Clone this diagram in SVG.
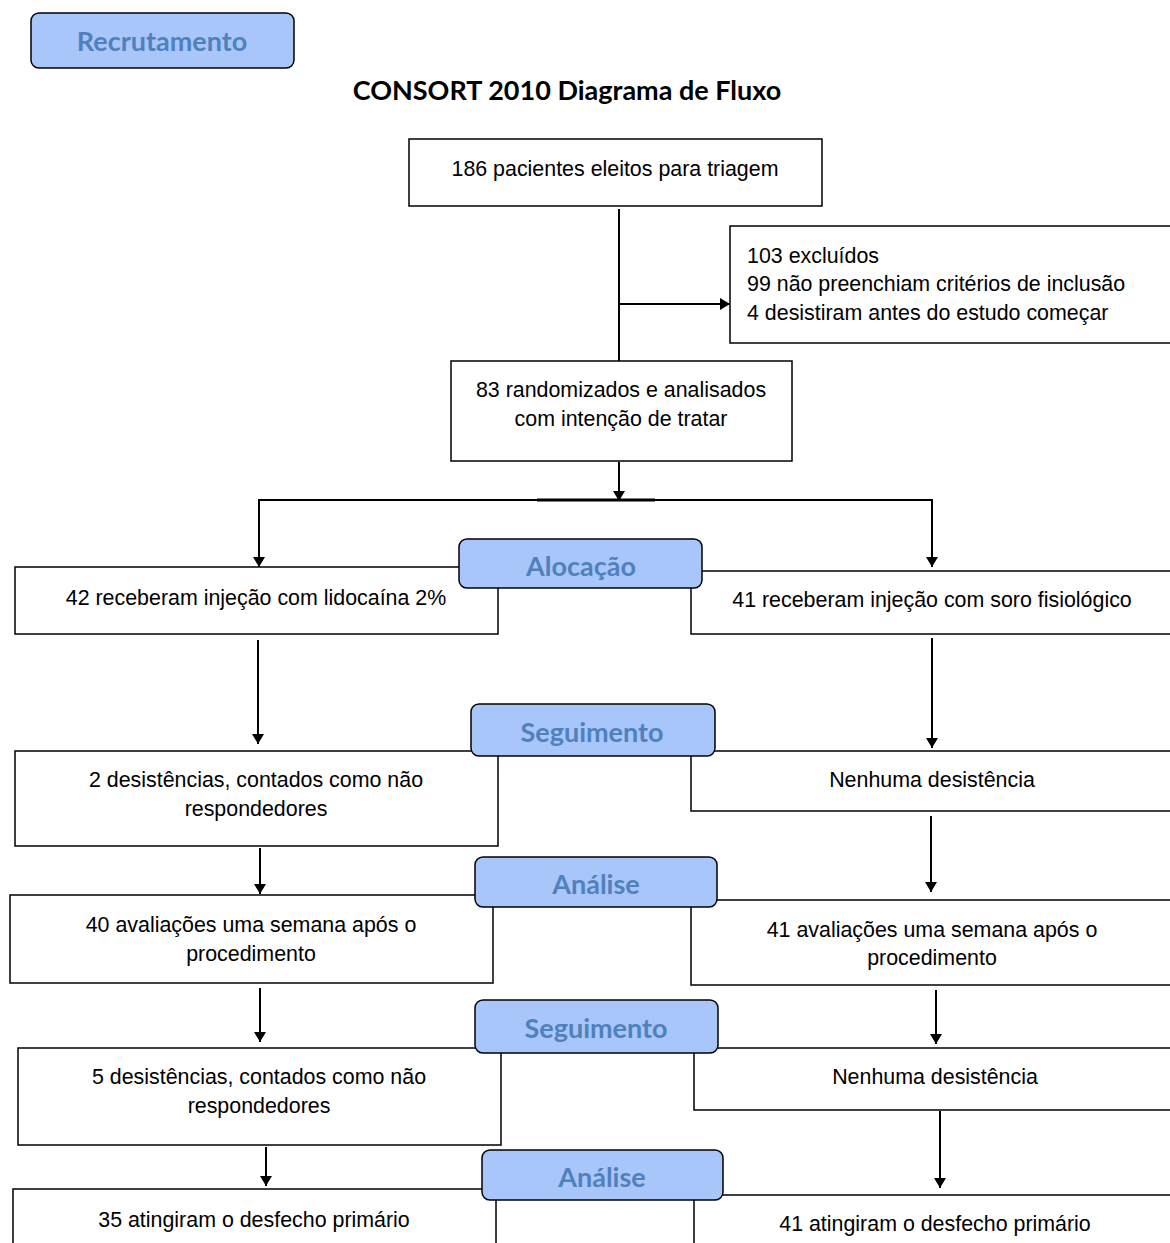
<svg xmlns="http://www.w3.org/2000/svg" width="1170" height="1243" viewBox="0 0 1170 1243">
<style>
.box{fill:#fff;stroke:#000;stroke-width:1.5}
.lab{fill:#a9c6fa;stroke:#000;stroke-width:1.5}
.t{font-family:"Liberation Sans",Arial,sans-serif;font-size:21.4px;fill:#000;text-anchor:middle}
.tl{font-family:"Liberation Sans",Arial,sans-serif;font-size:21.4px;fill:#000}
.lt{font-family:Lato,"Open Sans",sans-serif;font-weight:bold;font-size:27px;fill:#4f81bd;text-anchor:middle}
.title{font-family:Lato,"Open Sans",sans-serif;font-weight:bold;font-size:27px;fill:#000;text-anchor:middle}
.c{stroke:#000;stroke-width:2;fill:none}
</style>
<defs>
<marker id="ah" markerWidth="10" markerHeight="12" refX="10" refY="6" orient="auto" markerUnits="userSpaceOnUse">
<path d="M0,0 L10,6 L0,12 Z" fill="#000"/>
</marker>
</defs>
<g id="recrutamento"><rect class="lab" x="31" y="13" width="263" height="55" rx="8"/><text class="lt" x="162" y="51">Recrutamento</text></g>
<text class="title" x="567" y="100">CONSORT 2010 Diagrama de Fluxo</text>
<g id="connectors">
<line class="c" x1="619" y1="209" x2="619" y2="361"/>
<line class="c" x1="619" y1="304" x2="730" y2="304" marker-end="url(#ah)"/>
<line class="c" x1="619" y1="462" x2="619" y2="501" marker-end="url(#ah)"/>
<polyline class="c" points="259,567 259,500 932,500 932,567" marker-end="url(#ah)"/>
<line class="c" x1="259" y1="520" x2="259" y2="567" marker-end="url(#ah)"/>
<line stroke="#000" stroke-width="3" x1="537" y1="500" x2="655" y2="500"/>
<line class="c" x1="258" y1="640" x2="258" y2="744" marker-end="url(#ah)"/>
<line class="c" x1="932" y1="638" x2="932" y2="748" marker-end="url(#ah)"/>
<line class="c" x1="260" y1="848" x2="260" y2="894" marker-end="url(#ah)"/>
<line class="c" x1="931" y1="816" x2="931" y2="892" marker-end="url(#ah)"/>
<line class="c" x1="260" y1="988" x2="260" y2="1042" marker-end="url(#ah)"/>
<line class="c" x1="936" y1="990" x2="936" y2="1044" marker-end="url(#ah)"/>
<line class="c" x1="266" y1="1147" x2="266" y2="1186" marker-end="url(#ah)"/>
<line class="c" x1="940" y1="1111" x2="940" y2="1188" marker-end="url(#ah)"/>
</g>
<g id="triagem"><rect class="box" x="409" y="139" width="413" height="67"/><text class="t" x="615" y="176">186 pacientes eleitos para triagem</text></g>
<g id="excluidos"><rect class="box" x="730" y="226" width="445" height="117"/>
<text class="tl" x="747" y="263">103 excluídos</text>
<text class="tl" x="747" y="291">99 não preenchiam critérios de inclusão</text>
<text class="tl" x="747" y="320">4 desistiram antes do estudo começar</text></g>
<g id="randomizados"><rect class="box" x="451" y="361" width="341" height="100"/>
<text class="t" x="621" y="397">83 randomizados e analisados</text>
<text class="t" x="621" y="426">com intenção de tratar</text></g>
<g id="lidocaina"><rect class="box" x="15" y="567" width="483" height="67"/><text class="t" x="256" y="605">42 receberam injeção com lidocaína 2%</text></g>
<g id="soro"><rect class="box" x="691" y="571" width="484" height="63"/><text class="t" x="932" y="607">41 receberam injeção com soro fisiológico</text></g>
<g id="alocacao"><rect class="lab" x="459" y="539" width="243" height="49" rx="8"/><text class="lt" x="581" y="576">Alocação</text></g>
<g id="desist-2"><rect class="box" x="15" y="751" width="483" height="95"/>
<text class="t" x="256" y="787">2 desistências, contados como não</text>
<text class="t" x="256" y="816">respondedores</text></g>
<g id="nenhuma-1"><rect class="box" x="691" y="751" width="484" height="60"/><text class="t" x="932" y="787">Nenhuma desistência</text></g>
<g id="seguimento-1"><rect class="lab" x="471" y="704" width="244" height="52" rx="8"/><text class="lt" x="592" y="742">Seguimento</text></g>
<g id="aval-40"><rect class="box" x="10" y="895" width="483" height="88"/>
<text class="t" x="251" y="932">40 avaliações uma semana após o</text>
<text class="t" x="251" y="961">procedimento</text></g>
<g id="aval-41"><rect class="box" x="691" y="900" width="484" height="85"/>
<text class="t" x="932" y="937">41 avaliações uma semana após o</text>
<text class="t" x="932" y="965">procedimento</text></g>
<g id="analise-1"><rect class="lab" x="475" y="857" width="242" height="50" rx="8"/><text class="lt" x="596" y="894">Análise</text></g>
<g id="desist-5"><rect class="box" x="18" y="1048" width="483" height="97"/>
<text class="t" x="259" y="1084">5 desistências, contados como não</text>
<text class="t" x="259" y="1113">respondedores</text></g>
<g id="nenhuma-2"><rect class="box" x="694" y="1048" width="481" height="62"/><text class="t" x="935" y="1084">Nenhuma desistência</text></g>
<g id="seguimento-2"><rect class="lab" x="475" y="1000" width="243" height="53" rx="8"/><text class="lt" x="596" y="1038">Seguimento</text></g>
<g id="desfecho-35"><rect class="box" x="13" y="1189" width="483" height="80"/><text class="t" x="254" y="1227">35 atingiram o desfecho primário</text></g>
<g id="desfecho-41"><rect class="box" x="694" y="1195" width="481" height="80"/><text class="t" x="935" y="1231">41 atingiram o desfecho primário</text></g>
<g id="analise-2"><rect class="lab" x="482" y="1150" width="241" height="50" rx="8"/><text class="lt" x="602" y="1187">Análise</text></g>
</svg>
